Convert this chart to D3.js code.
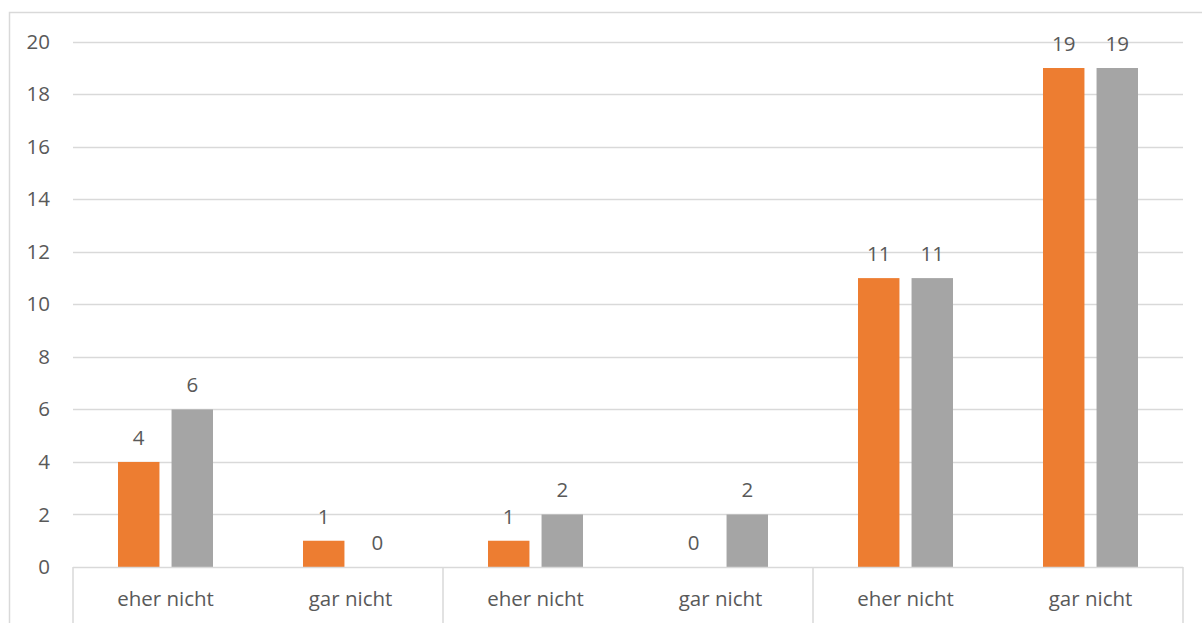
<!DOCTYPE html>
<html>
<head>
<meta charset="utf-8">
<script src="https://cdn.jsdelivr.net/npm/d3@7"></script>
<style>
  html, body { margin: 0; padding: 0; background: #fff; }
  svg { display: block; }
  text { font-family: "Open Sans", "Liberation Sans", sans-serif; fill: #595959; }
</style>
</head>
<body>
<svg id="chart" width="1202" height="623"></svg>
<script>
// Category labels along the x axis (two answers per group, three groups)
const categories = ["eher nicht", "gar nicht", "eher nicht", "gar nicht", "eher nicht", "gar nicht"];
const groupSize = 2;
// Two series of counts
const seriesNames = ["Serie 1", "Serie 2"];
const series1 = [4, 1, 1, 0, 11, 19];
const series2 = [6, 0, 2, 2, 11, 19];
const yTicks = [0, 2, 4, 6, 8, 10, 12, 14, 16, 18, 20];
const colors = ["#ED7D31", "#A5A5A5"];

const svg = d3.select("#chart");
const W = 1202, H = 623;
const plot = { left: 73, right: 1183, top: 41.75, bottom: 567 };
const gridColor = "#d9d9d9";
const fontSize = 20.5;

// outer frame (left and top edges visible)
svg.append("path")
  .attr("d", `M9.5,${H} L9.5,12.5 L${W},12.5`)
  .attr("fill", "none").attr("stroke", gridColor).attr("stroke-width", 1.5);

const y = d3.scaleLinear().domain([0, 20]).range([plot.bottom, plot.top]);
const x = d3.scaleBand().domain(d3.range(categories.length)).range([plot.left, plot.right]).padding(0);
const inner = d3.scaleBand().domain(seriesNames)
  .range([45, x.bandwidth() - 45]).paddingInner(0.226).paddingOuter(0);

// horizontal gridlines
svg.append("g").selectAll("line").data(yTicks.filter(t => t > 0)).join("line")
  .attr("x1", plot.left).attr("x2", plot.right)
  .attr("y1", d => Math.round(y(d)) + 0.5).attr("y2", d => Math.round(y(d)) + 0.5)
  .attr("stroke", gridColor).attr("stroke-width", 1.5);

// y axis tick labels
const yAxis = d3.axisLeft(y).tickValues(yTicks).tickSize(0).tickPadding(0);
const gy = svg.append("g").attr("transform", "translate(50,0)").call(yAxis);
gy.select(".domain").remove();
gy.selectAll("text").attr("font-size", fontSize).attr("font-family", null).attr("fill", "#595959");

// bars
const data = [series1, series2];
const gBars = svg.append("g");
data.forEach((vals, si) => {
  gBars.selectAll(null).data(vals).join("rect")
    .attr("x", (d, i) => x(i) + inner(seriesNames[si]))
    .attr("width", inner.bandwidth())
    .attr("y", d => y(d))
    .attr("height", d => y(0) - y(d))
    .attr("fill", colors[si]);
  // value labels
  gBars.selectAll(null).data(vals).join("text")
    .attr("x", (d, i) => x(i) + inner(seriesNames[si]) + inner.bandwidth() / 2)
    .attr("y", d => y(d) - 17)
    .attr("text-anchor", "middle")
    .attr("font-size", fontSize)
    .text(d => d);
});

// x axis baseline
svg.append("line")
  .attr("x1", plot.left).attr("x2", plot.right)
  .attr("y1", plot.bottom + 0.5).attr("y2", plot.bottom + 0.5)
  .attr("stroke", gridColor).attr("stroke-width", 1.5);

// group separators extending below the axis
const sepIdx = d3.range(0, categories.length + 1, groupSize);
svg.append("g").selectAll("line").data(sepIdx).join("line")
  .attr("x1", i => (i < categories.length ? x(i) : plot.right))
  .attr("x2", i => (i < categories.length ? x(i) : plot.right))
  .attr("y1", plot.bottom).attr("y2", H)
  .attr("stroke", gridColor).attr("stroke-width", 1.5);

// category labels
svg.append("g").selectAll("text").data(categories).join("text")
  .attr("x", (d, i) => x(i) + x.bandwidth() / 2)
  .attr("y", 606)
  .attr("text-anchor", "middle")
  .attr("font-size", fontSize)
  .text(d => d);
</script>
</body>
</html>
